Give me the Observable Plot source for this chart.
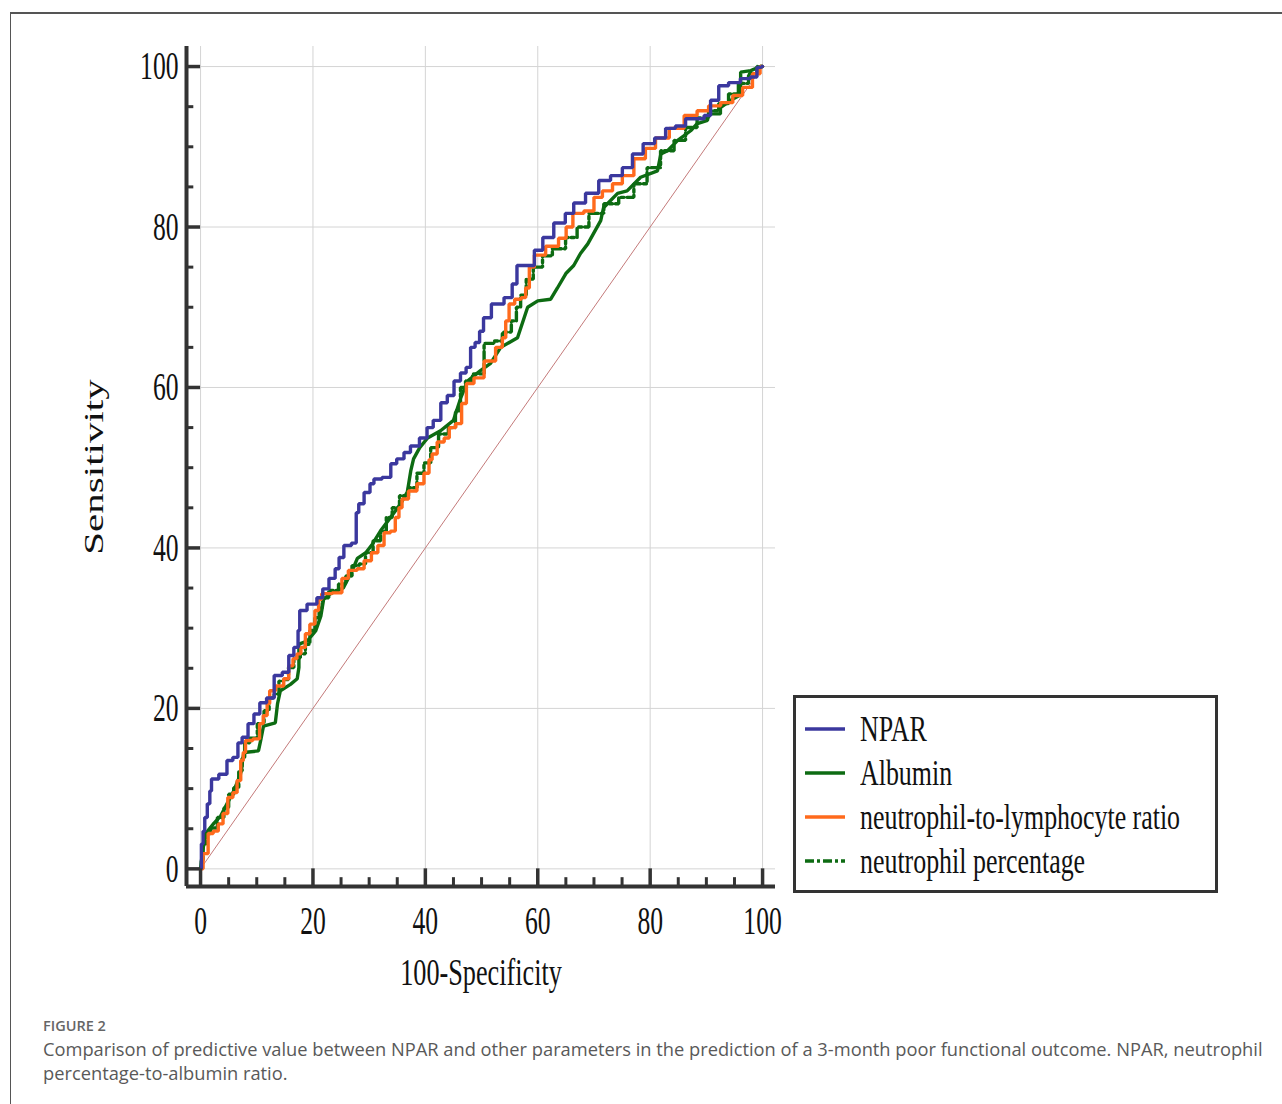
<!DOCTYPE html>
<html>
<head>
<meta charset="utf-8">
<script src="https://cdn.jsdelivr.net/npm/d3@7"></script>
<script src="https://cdn.jsdelivr.net/npm/@observablehq/plot@0.6"></script>
<style>
  html, body { margin: 0; padding: 0; background: #fff; width: 1282px; height: 1104px; overflow: hidden; }
  #frame { position: absolute; left: 10px; top: 12px; width: 1290px; height: 1100px;
           border-left: 1.5px solid #555; border-top: 2px solid #555; box-sizing: border-box; }
  #chart { position: absolute; left: 0; top: 0; }
  .serif { font-family: "Liberation Serif", "Times New Roman", serif; color: #111; white-space: nowrap; line-height: 1; }
  #xtitle { position: absolute; left: 481px; top: 953px; font-size: 38px; transform: translateX(-50%) scaleX(0.69); }
  #ytitle { position: absolute; left: 94px; top: 467px; font-size: 41px; transform: translate(-50%, -50%) rotate(-90deg) scaleY(0.68); }
  #legend { position: absolute; left: 793px; top: 695px; width: 425px; height: 198px; border: 3px solid #333;
            box-sizing: border-box; background: #fff; }
  .lg-line { position: absolute; left: 805px; width: 40px; height: 8px; }
  .lg-text { position: absolute; left: 860px; font-size: 35px; transform: scaleX(0.74); transform-origin: left center; }
  #figlabel { position: absolute; left: 43px; top: 1016px; font-family: "Open Sans", sans-serif; font-size: 14.5px;
              font-weight: 600; color: #666; }
  #caption { position: absolute; left: 43px; top: 1037px; font-family: "Open Sans", sans-serif; font-size: 18.3px;
             line-height: 24px; color: #595959; white-space: nowrap; }
</style>
</head>
<body>
<div id="frame"></div>
<div id="chart"></div>
<div id="xtitle" class="serif">100-Specificity</div>
<div id="ytitle" class="serif">Sensitivity</div>
<div id="legend"></div>
<div id="legend-items"></div>
<div id="figlabel">FIGURE 2</div>
<div id="caption">Comparison of predictive value between NPAR and other parameters in the prediction of a 3-month poor functional outcome. NPAR, neutrophil<br>percentage-to-albumin ratio.</div>
<script>
// ---- data (100-Specificity, Sensitivity) ----
const npar = [[0,0],[0.3,3.1],[0.6,4.7],[0.9,6.4],[1.5,8.1],[1.8,9.7],[2.1,11.2],[4.4,11.8],[5.0,13.5],[6.5,13.9],[6.8,15.7],[8.0,16.4],[8.9,18.1],[10.1,19.3],[11.0,20.7],[12.5,21.3],[13.7,24.1],[15.4,24.5],[16.0,26.6],[17.2,27.6],[17.5,29.7],[17.8,32.2],[20.1,33.0],[21.3,33.8],[22.2,34.9],[23.5,36.2],[24.4,37.4],[24.9,38.8],[26.1,40.3],[27.6,40.6],[27.8,44.4],[28.5,45.5],[29.7,46.9],[30.6,48.0],[31.1,48.6],[33.5,48.8],[34.2,50.5],[35.6,51.1],[36.8,51.9],[37.9,52.7],[40.0,53.7],[40.6,55.0],[42.2,55.9],[43.3,58.1],[44.5,59.0],[45.7,60.8],[46.8,61.8],[47.7,62.5],[48.4,65.0],[49.3,65.6],[50.0,67.0],[50.7,68.7],[52.8,70.4],[55.2,71.2],[55.7,72.9],[56.9,75.2],[58.7,75.2],[60.1,77.1],[61.7,78.7],[64.0,80.5],[65.8,81.7],[67.0,83.0],[70.0,84.2],[71.7,85.8],[74.2,86.4],[75.9,87.4],[77.8,89.1],[79.7,90.4],[81.9,91.1],[83.6,92.3],[85.4,92.6],[87.2,93.5],[89.0,93.5],[90.2,93.9],[91.3,95.8],[93.1,97.6],[94.8,98.0],[97.3,98.5],[98.4,98.7],[99.6,99.9],[100,100]];
const albumin = [[0,0],[0.3,1.9],[0.9,4.4],[2.4,5.7],[3.6,6.6],[4.7,8.1],[5.9,9.7],[7.1,11.8],[7.7,14.5],[10.3,14.7],[10.7,16.0],[11.2,17.8],[13.3,18.2],[13.7,20.6],[14.2,22.2],[16.0,23.0],[17.2,23.7],[17.5,25.1],[17.5,28.0],[19.0,28.4],[20.5,29.7],[21.4,31.5],[21.9,33.6],[23.1,34.3],[25.4,35.0],[27.0,37.2],[27.9,38.7],[29.4,39.4],[30.6,40.5],[32.0,42.1],[33.8,43.8],[35.6,45.5],[36.8,47.0],[37.4,49.6],[37.9,51.1],[39.0,52.5],[40.4,53.7],[42.7,54.6],[45.0,55.9],[46.3,58.7],[47.5,60.8],[49.8,62.1],[51.6,63.0],[53.4,65.0],[56.4,66.2],[58.2,70.0],[60.0,70.8],[62.3,71.0],[63.5,72.4],[65.0,74.2],[66.4,75.2],[67.6,76.7],[68.9,77.9],[71.2,80.8],[71.7,82.4],[74.2,84.2],[75.9,84.5],[78.3,86.2],[81.3,87.0],[81.9,89.1],[83.1,89.5],[84.9,90.8],[87.2,92.0],[88.4,92.9],[90.2,93.3],[90.4,94.1],[92.5,94.1],[92.5,94.9],[94.8,96.0],[96.1,96.5],[96.1,99.3],[97.9,99.5],[99.6,100],[100,100]];
const nlr = [[0,0],[0.9,1.9],[1.8,4.4],[2.7,4.7],[3.6,5.6],[4.4,6.9],[5.3,8.9],[6.2,9.5],[6.8,11.0],[7.5,13.5],[7.7,14.5],[8.3,16.0],[10.3,16.2],[10.7,18.1],[11.6,19.1],[12.1,20.6],[12.5,22.2],[14.2,22.8],[15.4,23.7],[16.0,25.3],[16.9,26.2],[17.4,26.8],[18.3,27.6],[19.0,29.3],[19.9,30.5],[20.8,32.2],[21.2,33.6],[21.9,34.3],[24.9,34.4],[25.4,36.2],[27.2,37.2],[28.5,37.4],[29.7,38.4],[31.1,39.4],[32.0,40.3],[33.3,41.9],[34.3,42.1],[35.0,43.8],[35.6,45.0],[36.1,46.1],[37.9,47.1],[39.1,48.0],[40.4,49.3],[40.9,51.0],[41.5,51.7],[42.7,53.2],[44.0,53.7],[44.5,55.0],[46.3,55.5],[46.6,58.0],[48.0,60.5],[49.3,61.2],[51.6,63.3],[53.4,65.0],[54.0,66.2],[54.6,68.3],[55.2,70.4],[56.6,71.0],[57.5,71.2],[58.2,72.4],[58.8,75.0],[60.0,76.5],[62.8,77.6],[64.6,78.6],[65.5,80.0],[67.0,81.7],[69.4,82.0],[70.6,83.7],[72.4,84.5],[74.2,85.4],[75.9,86.4],[78.3,88.5],[80.0,89.8],[81.9,91.1],[84.9,92.3],[87.2,93.9],[89.5,94.5],[91.3,95.1],[93.8,95.5],[95.6,96.4],[97.3,97.4],[99.1,99.1],[100,100]];
const neutPct = [[0,0],[0.3,1.0],[0.6,3.1],[1.2,4.4],[2.4,5.1],[3.6,6.4],[4.7,7.6],[5.3,9.3],[6.5,10.1],[7.1,12.2],[7.7,13.8],[8.0,15.7],[9.5,16.3],[10.7,18.1],[11.9,19.7],[12.5,21.3],[13.7,21.8],[14.2,23.4],[15.3,23.6],[16.0,25.1],[17.2,26.3],[18.3,26.8],[19.0,28.0],[19.9,29.7],[20.8,31.3],[21.4,32.5],[21.9,33.8],[23.7,34.7],[25.4,35.5],[26.3,36.5],[27.6,37.8],[28.8,38.0],[29.9,39.4],[31.5,40.9],[32.6,42.1],[33.5,43.8],[34.7,45.0],[36.1,46.5],[37.9,47.5],[39.1,49.3],[40.4,50.6],[41.5,52.5],[43.2,54.2],[45.0,55.0],[45.7,57.1],[46.8,60.0],[47.5,60.8],[49.3,61.7],[51.6,65.5],[52.8,65.8],[54.6,66.9],[56.0,68.3],[56.4,70.0],[57.5,71.5],[58.4,73.5],[60.0,75.0],[61.7,76.4],[63.5,77.3],[66.4,78.7],[67.6,80.0],[70.6,81.7],[72.9,82.9],[75.9,83.7],[78.3,85.4],[80.6,87.4],[83.1,89.5],[85.4,90.8],[87.2,92.4],[89.5,93.6],[91.3,94.5],[93.1,95.4],[94.8,96.6],[96.6,97.9],[98.4,99.1],[99.6,100],[100,100]];
const diagonal = [0, 100];
const majorTicks = [0, 20, 40, 60, 80, 100];
const minorTicks = [5, 10, 15, 25, 30, 35, 45, 50, 55, 65, 70, 75, 85, 90, 95];
const seriesNames = ["NPAR", "Albumin", "neutrophil-to-lymphocyte ratio", "neutrophil percentage"];
const seriesColors = ["#3b389e", "#0d6b12", "#ff6a1c", "#0d6b12"];
const seriesDash = [null, null, null, "9,3,3,3"];
const seriesCurve = ["step", "linear", "step", "step"];
const xLo = -2.5, xHi = 102.3, yLo = -2.2, yHi = 102.5;

const seriesData = [npar, albumin, nlr, neutPct];
const axisColor = "#333";

const lineMarks = seriesData.map((d, i) => Plot.line(d, {
  x: p => p[0], y: p => p[1],
  stroke: seriesColors[i], strokeWidth: 3.4, strokeDasharray: seriesDash[i],
  strokeLinejoin: "miter", curve: seriesCurve[i]
}));

const chart = Plot.plot({
  width: 1282, height: 1000,
  marginLeft: 186, marginRight: 507, marginTop: 46, marginBottom: 114,
  x: { domain: [xLo, xHi] },
  y: { domain: [yLo, yHi] },
  style: { fontFamily: "Liberation Serif, serif", fontSize: "40px", color: "#111", background: "transparent", overflow: "visible" },
  marks: [
    Plot.gridX(majorTicks, { stroke: "#d4d4d4", strokeOpacity: 1, strokeWidth: 1 }),
    Plot.gridY(majorTicks, { stroke: "#d4d4d4", strokeOpacity: 1, strokeWidth: 1 }),
    Plot.line(diagonal.map(v => [v, v]), { x: p => p[0], y: p => p[1], stroke: "#c47a7a", strokeWidth: 1 }),
    // lines drawn back to front
    lineMarks[1], lineMarks[3], lineMarks[2], lineMarks[0],
    // axis lines
    Plot.ruleX([xLo], { y1: yLo, y2: yHi, stroke: axisColor, strokeWidth: 4 }),
    Plot.ruleY([yLo], { x1: xLo, x2: xHi, stroke: axisColor, strokeWidth: 4 }),
    // ticks (inward)
    Plot.ruleY(majorTicks, { x1: xLo, x2: 0, stroke: axisColor, strokeWidth: 3.5 }),
    Plot.ruleY(minorTicks, { x1: xLo, x2: -1.2, stroke: axisColor, strokeWidth: 3 }),
    Plot.ruleX(majorTicks, { y1: yLo, y2: 0, stroke: axisColor, strokeWidth: 3.5 }),
    Plot.ruleX(minorTicks, { y1: yLo, y2: -1.1, stroke: axisColor, strokeWidth: 3 }),
    Plot.axisY(majorTicks, { tickSize: 0, tickPadding: 8, label: null, fontSize: 40 }),
    Plot.axisX(majorTicks, { tickSize: 0, tickPadding: 19, label: null, fontSize: 40 })
  ]
});
// condense tick labels horizontally like the reference
chart.querySelectorAll('g[aria-label$="tick label"] text').forEach(t => {
  const tr = t.getAttribute("transform") || "";
  t.setAttribute("transform", tr + " scale(0.64,1)");
});
document.getElementById("chart").appendChild(chart);

// legend
const items = document.getElementById("legend-items");
seriesNames.forEach((name, i) => {
  const cy = 729 + 44 * i;
  const svg = d3.create("svg").attr("class", "lg-line").style("top", (cy - 4) + "px")
    .attr("width", 40).attr("height", 8);
  svg.append("line").attr("x1", 0).attr("x2", 40).attr("y1", 4).attr("y2", 4)
    .attr("stroke", seriesColors[i]).attr("stroke-width", 3.4)
    .attr("stroke-dasharray", seriesDash[i]);
  items.appendChild(svg.node());
  const t = document.createElement("div");
  t.className = "lg-text serif";
  t.style.top = (cy - 17.3) + "px";
  t.textContent = name;
  items.appendChild(t);
});
</script>
</body>
</html>
